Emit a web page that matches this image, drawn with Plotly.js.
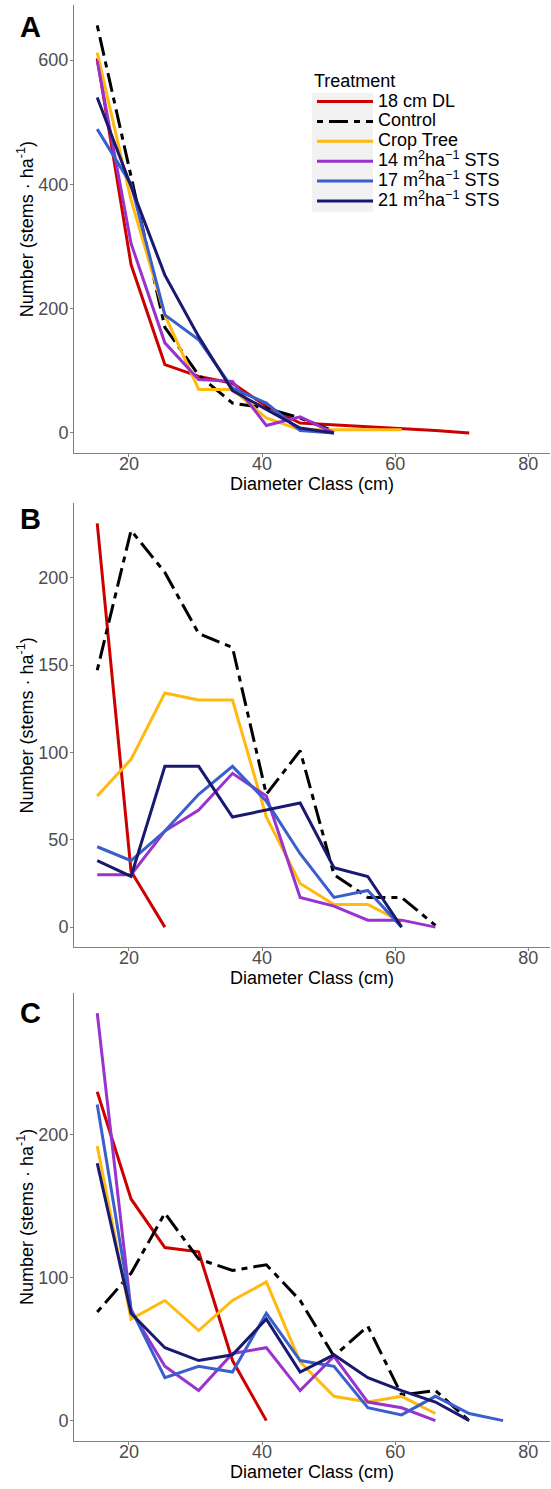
<!DOCTYPE html>
<html>
<head>
<meta charset="utf-8">
<script src="https://cdn.plot.ly/plotly-3.0.1.min.js"></script>
<style>html,body{margin:0;padding:0;background:#fff;}</style>
</head>
<body>
<div id="chart" style="width:551px;height:1489px;"></div>
<script>
// Diameter classes (2-inch classes expressed in cm)
const diameterClasses = [15.24, 20.32, 25.4, 30.48, 35.56, 40.64, 45.72, 50.8, 55.88, 60.96, 66.04, 71.12, 76.2];

const treatmentNames = [
  "18 cm DL",
  "Control",
  "Crop Tree",
  "14 m<sup>2</sup>ha<sup>\u22121</sup> STS",
  "17 m<sup>2</sup>ha<sup>\u22121</sup> STS",
  "21 m<sup>2</sup>ha<sup>\u22121</sup> STS"
];
const treatmentColors = ["#CD0000", "#000000", "#FFB90F", "#9A32CD", "#3A5FCD", "#191970"];
const treatmentDash = ["solid", "6px,6px,19px,6px", "solid", "solid", "solid", "solid"];

// Panel A
const dl18A    = [603, 271, 110, 91, 80, 43, 16, 13, 11, 8, 4, 0];
const controlA = [656, 415, 170, 93, 48, 40, 24, 3];
const cropA    = [612, 375, 190, 70, 70, 24, 5, 5, 5, 5];
const sts14A   = [599, 305, 145, 86, 83, 12, 26, 0];
const sts17A   = [489, 400, 190, 150, 72, 48, 4, 0];
const sts21A   = [540, 397, 254, 155, 68, 38, 8, 0];

// Panel B
const dl18B    = [231, 32, 0];
const controlB = [147, 227, 203, 168, 160, 76, 101, 30, 17, 17, 1];
const cropB    = [75, 96, 134, 130, 130, 63, 25, 13, 13, 3];
const sts14B   = [30, 30, 55, 67, 88, 75, 17, 12, 4, 4, 0];
const sts17B   = [46, 38, 55, 76, 92, 72, 42, 17, 21, 0];
const sts21B   = [38, 29, 92, 92, 63, 67, 71, 34, 29, 0];

// Panel C
const dl18C    = [230, 155, 121, 118, 42, 0];
const controlC = [76, 103, 145, 113, 105, 109, 84, 45, 66, 18, 21, 0];
const cropC    = [192, 71, 84, 63, 84, 97, 41, 17, 13, 17, 5];
const sts14C   = [285, 77, 38, 21, 47, 51, 21, 45, 13, 9, 0];
const sts17C   = [221, 78, 30, 38, 34, 75, 42, 38, 9, 4, 17, 5, 0];
const sts21C   = [180, 75, 51, 42, 46, 71, 34, 46, 30, 21, 13, 0];

const xTicks = [20, 40, 60, 80];
const yTicksA = [0, 200, 400, 600];
const yTicksB = [0, 50, 100, 150, 200];
const yTicksC = [0, 100, 200];
const panelLabels = ["A", "B", "C"];

const panels = [
  {series: [dl18A, controlA, cropA, sts14A, sts17A, sts21A], xa: "x", ya: "y", ticks: yTicksA},
  {series: [dl18B, controlB, cropB, sts14B, sts17B, sts21B], xa: "x2", ya: "y2", ticks: yTicksB},
  {series: [dl18C, controlC, cropC, sts14C, sts17C, sts21C], xa: "x3", ya: "y3", ticks: yTicksC}
];

const FONT = "Liberation Sans, Arial, Helvetica, sans-serif";
const traces = [];
panels.forEach((p, pi) => {
  p.series.forEach((vals, si) => {
    traces.push({
      type: "scatter",
      mode: "lines",
      x: diameterClasses.slice(0, vals.length),
      y: vals,
      xaxis: p.xa,
      yaxis: p.ya,
      name: '<span style="font-size:18px">' + treatmentNames[si] + '</span>',
      legendgroup: "t" + si,
      showlegend: pi === 0,
      line: {color: treatmentColors[si], width: 3, dash: treatmentDash[si]},
      hoverinfo: "skip"
    });
  });
});

function yRange(series) {
  let mx = 0;
  series.forEach(s => s.forEach(v => { if (v > mx) mx = v; }));
  return [-0.05 * mx, 1.05 * mx];
}

const xBase = {
  range: [11.75, 83.25],
  tickvals: xTicks,
  showline: true, linecolor: "#808080", linewidth: 1,
  ticks: "outside", ticklen: 3, tickcolor: "#808080", tickwidth: 1,
  ticklabelstandoff: -9,
  showgrid: false, zeroline: false,
  tickfont: {family: FONT, size: 18, color: "#4D4D4D"},
  title: {text: "Diameter Class (cm)", font: {family: FONT, size: 18, color: "#000"}, standoff: 0},
  fixedrange: true
};
function yBase(ticks, series, domain, xa) {
  return {
    domain: domain,
    anchor: xa,
    range: yRange(series),
    tickvals: ticks,
    showline: true, linecolor: "#808080", linewidth: 1,
    ticks: "outside", ticklen: 3, tickcolor: "#808080", tickwidth: 1,
    ticklabelstandoff: -2,
    showgrid: false, zeroline: false,
    tickfont: {family: FONT, size: 18, color: "#4D4D4D"},
    title: {text: "Number (stems \u00B7 ha<sup>-1</sup>)", font: {family: FONT, size: 18, color: "#000"}, standoff: 0},
    fixedrange: true
  };
}

const layout = {
  width: 551, height: 1489,
  margin: {l: 74, r: 1, t: 5, b: 48},
  paper_bgcolor: "#fff", plot_bgcolor: "#fff",
  font: {family: FONT, size: 18, color: "#000"},
  showlegend: true,
  legend: {
    x: 0.50, xanchor: "left", y: 0.9595, yanchor: "top",
    bgcolor: "rgba(0,0,0,0)",
    font: {family: FONT, size: 13, color: "#000"},
    title: {text: "Treatment", font: {family: FONT, size: 18, color: "#000"}},
    traceorder: "normal",
    itemwidth: 56
  },
  shapes: [
    {type: "rect", xref: "paper", yref: "paper", x0: 0.5, x1: 0.628, y0: 0.8561, y1: 0.9389,
     fillcolor: "#F2F2F2", line: {width: 0}, layer: "below"}
  ],
  xaxis:  Object.assign({}, xBase, {domain: [0, 1], anchor: "y"}),
  xaxis2: Object.assign({}, xBase, {domain: [0, 1], anchor: "y2"}),
  xaxis3: Object.assign({}, xBase, {domain: [0, 1], anchor: "y3"}),
  yaxis:  yBase(yTicksA, panels[0].series, [0.6878, 1], "x"),
  yaxis2: yBase(yTicksB, panels[1].series, [0.3438, 0.6530], "x2"),
  yaxis3: yBase(yTicksC, panels[2].series, [0, 0.3122], "x3"),
  annotations: [
    {text: "<b>" + panelLabels[0] + "</b>", xref: "paper", yref: "paper", x: -0.092, y: 0.9847, xanchor: "center", yanchor: "middle", showarrow: false, font: {family: FONT, size: 29, color: "#000"}},
    {text: "<b>" + panelLabels[1] + "</b>", xref: "paper", yref: "paper", x: -0.092, y: 0.642, xanchor: "center", yanchor: "middle", showarrow: false, font: {family: FONT, size: 29, color: "#000"}},
    {text: "<b>" + panelLabels[2] + "</b>", xref: "paper", yref: "paper", x: -0.092, y: 0.298, xanchor: "center", yanchor: "middle", showarrow: false, font: {family: FONT, size: 29, color: "#000"}}
  ]
};

Plotly.newPlot("chart", traces, layout, {displayModeBar: false, staticPlot: true});
</script>
</body>
</html>
